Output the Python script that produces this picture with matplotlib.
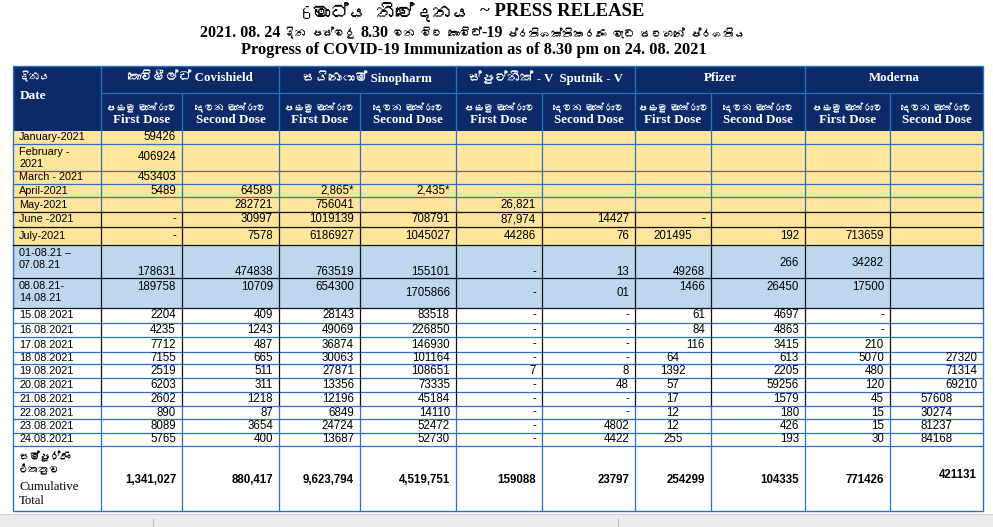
import matplotlib
matplotlib.use("Agg")
import matplotlib.pyplot as plt
from matplotlib.patches import Rectangle
from matplotlib import font_manager
from matplotlib.ft2font import FT2Font

# ---- data ----
dates = ["January-2021", "February -\n2021", "March - 2021", "April-2021", "May-2021",
         "June -2021", "July-2021", "01-08.21 \u2013\n07.08.21", "08.08.21-\n14.08.21",
         "15.08.2021", "16.08.2021", "17.08.2021", "18.08.2021", "19.08.2021",
         "20.08.2021", "21.08.2021", "22.08.2021", "23.08.2021", "24.08.2021"]

vaccines = ["කොවිෂීල්ඩ් Covishield", "සයිනොෆාම් Sinopharm",
            "ස්පුට්නික් - V  Sputnik - V", "Pfizer", "Moderna"]
dose_si = ["පළමු මාත්රාව", "දෙවන මාත්රාව"]
dose_en = ["First Dose", "Second Dose"]

cov1 = ["59426", "406924", "453403", "5489", "", "-", "-", "178631", "189758",
        "2204", "4235", "7712", "7155", "2519", "6203", "2602", "890", "8089", "5765"]
cov2 = ["", "", "", "64589", "282721", "30997", "7578", "474838", "10709",
        "409", "1243", "487", "665", "511", "311", "1218", "87", "3654", "400"]
sino1 = ["", "", "", "2,865*", "756041", "1019139", "6186927", "763519", "654300",
         "28143", "49069", "36874", "30063", "27871", "13356", "12196", "6849", "24724", "13687"]
sino2 = ["", "", "", "2,435*", "", "708791", "1045027", "155101", "1705866",
         "83518", "226850", "146930", "101164", "108651", "73335", "45184", "14110", "52472", "52730"]
sput1 = ["", "", "", "", "26,821", "87,974", "44286", "-", "-",
         "-", "-", "-", "-", "7", "-", "-", "-", "-", "-"]
sput2 = ["", "", "", "", "", "14427", "76", "13", "01",
         "-", "-", "-", "-", "8", "48", "-", "-", "4802", "4422"]
pf1 = ["", "", "", "", "", "-", "201495", "49268", "1466",
       "61", "84", "116", "64", "1392", "57", "17", "12", "12", "255"]
pf2 = ["", "", "", "", "", "", "192", "266", "26450",
       "4697", "4863", "3415", "613", "2205", "59256", "1579", "180", "426", "193"]
mod1 = ["", "", "", "", "", "", "713659", "34282", "17500",
        "-", "-", "210", "5070", "480", "120", "45", "15", "15", "30"]
mod2 = ["", "", "", "", "", "", "", "", "",
        "", "", "", "27320", "71314", "69210", "57608", "30274", "81237", "84168"]
totals = ["1,341,027", "880,417", "9,623,794", "4,519,751", "159088",
          "23797", "254299", "104335", "771426", "421131"]

columns = [cov1, cov2, sino1, sino2, sput1, sput2, pf1, pf2, mod1, mod2]


def sinhala_fonts():
    found = []
    for f in font_manager.fontManager.ttflist:
        try:
            cmap = FT2Font(f.fname).get_charmap()
        except Exception:
            continue
        if 0x0DC3 in cmap and 0x0DCF in cmap and f.name not in found:
            found.append(f.name)
    # prefer proportional faces over monospaced ones
    found.sort(key=lambda s: ("Mono" in s, "Sans" in s))
    return found


si = sinhala_fonts()
SERIF = ["Liberation Serif"] + si[:1] + ["DejaVu Serif"]
SINH = si[:1] + ["Liberation Serif", "DejaVu Serif"]
SANS = ["Liberation Sans", "DejaVu Sans"]

# ---- layout (pixels) ----
col_edges = [13, 101, 182, 279, 360, 456, 542, 635, 711, 805, 890, 983]
head_edges = [66, 93, 131]
row_edges = [131, 144, 171, 184, 197, 212, 227, 245, 278, 308, 323, 337,
             352, 364, 378, 392, 406, 419, 433, 446, 511]

NAVY = "#0d2a68"
YELLOW = "#fde59c"
LBLUE = "#bdd7ee"
GRID = "#2a72c0"
BLACK = "#111111"

fig = plt.figure(figsize=(9.93, 5.27), dpi=100)
ax = fig.add_axes([0, 0, 1, 1])
ax.set_xlim(0, 993)
ax.set_ylim(527, 0)
ax.axis("off")


def text_runs(xc, y, runs):
    """Place mixed-font pieces one after another, centred on xc."""
    items = []
    for s, gap, kw in runs:
        items.append((ax.text(0, y, s, ha="left", va="center", **kw), gap))
    renderer = fig.canvas.get_renderer()
    widths = [t.get_window_extent(renderer).width for t, _ in items]
    total = sum(widths) + sum(g for _, g in items)
    x = xc - total / 2
    for (t, gap), w in zip(items, widths):
        x += gap
        t.set_x(x)
        x += w


LAT = dict(family=SERIF, fontweight="bold")
SIN = dict(family=SINH)

# titles
text_runs(473, 12, [("6මාධ්ය නිවේදනය", 0, dict(SIN, fontsize=13.5)),
                    ("~ PRESS RELEASE", 9, dict(LAT, fontsize=13.5))])
text_runs(473, 33, [("2021. 08. 24", 0, dict(LAT, fontsize=11.5)),
                    ("දින පස්වරු", 4, dict(SIN, fontsize=8)),
                    ("8.30", 4, dict(LAT, fontsize=11.5)),
                    ("වන විට කොවිඩ්", 4, dict(SIN, fontsize=8)),
                    ("-19", 0, dict(LAT, fontsize=11.5)),
                    ("ප්රතිශක්තිකරණ වැඩ සටහනේ ප්රගතිය", 4, dict(SIN, fontsize=8))])
ax.text(474, 50, "Progress of COVID-19 Immunization as of 8.30 pm on 24. 08. 2021",
        ha="center", va="center", fontsize=11.8, **LAT)

x0, x1 = col_edges[0], col_edges[-1]
# header background
ax.add_patch(Rectangle((x0, head_edges[0]), x1 - x0, head_edges[2] - head_edges[0],
                       facecolor=NAVY, edgecolor="none"))
ax.text(20, 77, "දිනය", color="white", fontsize=7.5, family=SERIF, va="center")
ax.text(20, 96, "Date", color="white", fontsize=9.5, family=SERIF, va="center",
        fontweight="bold")
for i, name in enumerate(vaccines):
    xa, xb = col_edges[1 + 2 * i], col_edges[3 + 2 * i]
    ax.text((xa + xb) / 2, 78, name, color="white", ha="center", va="center",
            fontsize=9.3, family=SERIF, fontweight="bold")
    for d in range(2):
        xc = (col_edges[1 + 2 * i + d] + col_edges[2 + 2 * i + d]) / 2
        ax.text(xc, 108, dose_si[d], color="white", ha="center", va="center",
                fontsize=7, family=SERIF)
        ax.text(xc, 120, dose_en[d], color="white", ha="center", va="center",
                fontsize=9.4, family=SERIF, fontweight="bold")
# header grid
ax.plot([col_edges[1], x1], [head_edges[1]] * 2, color=GRID, lw=0.9)
for j, xe in enumerate(col_edges[1:-1], start=1):
    top = head_edges[0] if j % 2 == 1 else head_edges[1]
    ax.plot([xe, xe], [top, head_edges[2]], color=GRID, lw=0.9)

# body rows
n = len(dates)
for r in range(n + 1):
    ya, yb = row_edges[r], row_edges[r + 1]
    fc = YELLOW if r < 7 else (LBLUE if r < 9 else "white")
    ax.add_patch(Rectangle((x0, ya), x1 - x0, yb - ya, facecolor=fc, edgecolor="none"))

# grid lines
for r, ye in enumerate(row_edges[1:-1], start=1):
    col = BLACK if 5 <= r <= 9 else GRID
    ax.plot([x0, x1], [ye, ye], color=col, lw=0.9)
for xe in col_edges[1:-1]:
    ax.plot([xe, xe], [row_edges[0], row_edges[5]], color=GRID, lw=0.9)
    ax.plot([xe, xe], [row_edges[5], row_edges[16]], color=BLACK, lw=0.9)
    ax.plot([xe, xe], [row_edges[16], row_edges[-1]], color=GRID, lw=0.9)
ax.add_patch(Rectangle((x0, head_edges[0]), x1 - x0, row_edges[-1] - head_edges[0],
                       facecolor="none", edgecolor=GRID, lw=1.0))

# date labels
for r, lab in enumerate(dates):
    ya, yb = row_edges[r], row_edges[r + 1]
    if "\n" in lab:
        ax.text(19, ya + 3, lab, ha="left", va="top", fontsize=7.8, family=SANS,
                linespacing=1.25)
    else:
        ax.text(19, (ya + yb) / 2, lab, ha="left", va="center", fontsize=7.8, family=SANS)

# cell values
centered = {(6, 6)} | {(r, 6) for r in range(12, 19)} | {(r, 9) for r in range(15, 19)}
for c, vals in enumerate(columns):
    xa, xb = col_edges[c + 1], col_edges[c + 2]
    for r, v in enumerate(vals):
        if not v:
            continue
        ya, yb = row_edges[r], row_edges[r + 1]
        y = (ya + yb) / 2
        if r == 7:
            y = ya + 18 if c in (7, 8) else yb - 6
        elif r == 8 and c not in (3, 4, 5):
            y = ya + 9
        if (r, c) in centered:
            ax.text((xa + xb) / 2, y, v, ha="center", va="center", fontsize=8.3, family=SANS)
        else:
            ax.text(xb - 6, y, v, ha="right", va="center", fontsize=8.3, family=SANS)

# cumulative total row
ya, yb = row_edges[-2], row_edges[-1]
ax.text(19, ya + 11, "සම්පූර්ණ", fontsize=7.5, family=SERIF, va="center", fontweight="bold")
ax.text(19, ya + 24, "එකතුව", fontsize=7.5, family=SERIF, va="center", fontweight="bold")
ax.text(19, ya + 41, "Cumulative", fontsize=9.2, family=SERIF, va="center")
ax.text(19, ya + 55, "Total", fontsize=9.2, family=SERIF, va="center")
for c, v in enumerate(totals):
    y = ya + 29 if c == 9 else ya + 34
    ax.text(col_edges[c + 2] - 6, y, v, ha="right", va="center", fontsize=8.3,
            family=SANS, fontweight="bold")

# grey strip at the bottom of the screenshot
ax.add_patch(Rectangle((0, 514), 993, 13, facecolor="#ececec", edgecolor="none"))
ax.plot([0, 993], [514, 514], color="#d0d0d0", lw=0.8)
for xe in (153, 618):
    ax.plot([xe, xe], [519, 527], color="#bdbdbd", lw=0.8)

fig.savefig("out.png", dpi=100)
